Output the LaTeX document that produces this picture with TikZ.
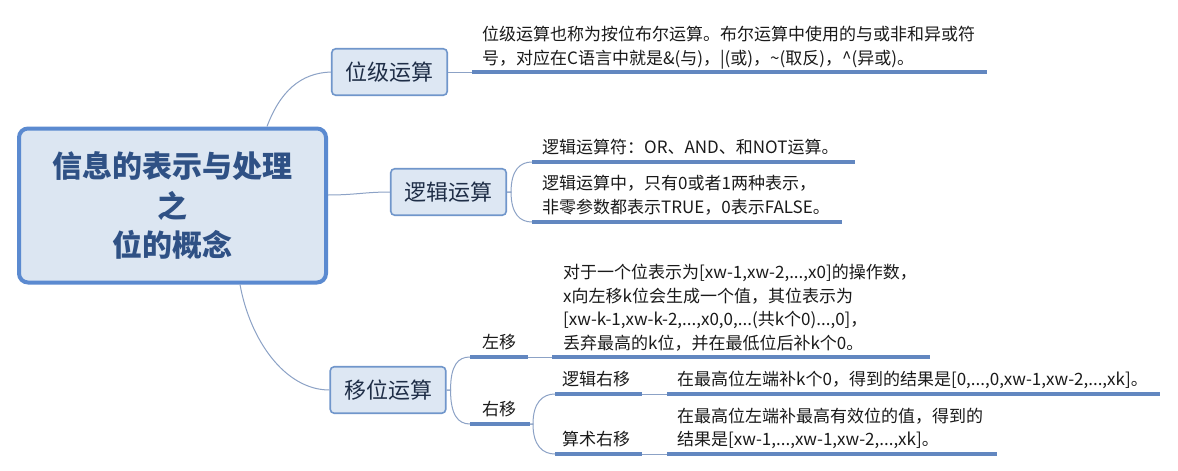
\documentclass[tikz,border=0pt]{standalone}
\usepackage{fontspec}
\setmainfont{Noto Sans CJK SC}
\definecolor{cborder}{HTML}{5B8AD0}
\definecolor{cfill}{HTML}{DCE6F2}
\definecolor{ctext}{HTML}{2F5185}
\definecolor{sborder}{HTML}{7096CB}
\definecolor{sfill}{HTML}{DDE7F3}
\definecolor{stext}{HTML}{1F2E47}
\definecolor{ulcol}{HTML}{6287C0}
\definecolor{conncol}{HTML}{8CA2C6}
\definecolor{dtext}{HTML}{1A1A1A}
\tikzset{
  central/.style={draw=cborder, line width=4pt, fill=cfill, rounded corners=9pt,
    minimum width=307pt, minimum height=154pt, inner sep=0pt, align=center,
    text=ctext, font=\fontsize{30}{39.5}\selectfont\bfseries},
  mainbox/.style={draw=sborder, line width=1.6pt, fill=sfill, rounded corners=4pt,
    minimum width=115.5pt, minimum height=46.5pt, inner sep=0pt,
    text=stext, font=\fontsize{22}{26}\selectfont},
  detail/.style={anchor=north west, inner sep=0pt, align=left, text=dtext,
    font=\fontsize{17}{23.5}\selectfont},
  subtopic/.style={anchor=north west, inner sep=0pt, text=dtext,
    font=\fontsize{17}{23.5}\selectfont},
  conn/.style={draw=conncol, line width=1pt},
  uln/.style={draw=ulcol, line width=3.2pt}
}
\begin{document}
\begin{tikzpicture}[x=1pt,y=-1pt]
\useasboundingbox[fill=white] (0,0) rectangle (1178,471);

% central topic
\node[central] (c) at (172.5,205.5) {信息的表示与处理\\之\\位的概念};

% main topics
\node[mainbox] (b1) at (389.5,72) {位级运算};
\node[mainbox] (b2) at (448.5,192) {逻辑运算};
\node[mainbox] (b3) at (388,390) {移位运算};

\draw[conn] ([xshift=94.5pt]c.north) .. controls (280,92) and (300,73) .. (b1.west);
\draw[conn] ([yshift=10.5pt]c.east) .. controls (355,195) and (365,192) .. (b2.west);
\draw[conn] ([xshift=67.5pt]c.south) .. controls (250,340) and (285,390) .. (b3.west);

% 位级运算 detail
\node[detail] (d1) at (482,26) {位级运算也称为按位布尔运算。布尔运算中使用的与或非和异或符\\号，对应在C语言中就是\&(与)，|(或)，\textasciitilde(取反)，\textasciicircum(异或)。};
\coordinate (u1a) at (472,72);
\coordinate (u1b) at (987,72);
\draw[conn] (b1.east) -- (u1a);
\draw[uln] (u1a) -- (u1b);

% 逻辑运算 details
\node[detail] (d2) at (542,139) {逻辑运算符：OR、AND、和NOT运算。};
\node[detail] (d3) at (542,175) {逻辑运算中，只有0或者1两种表示，\\非零参数都表示TRUE，0表示FALSE。};
\coordinate (u2a) at (532,162);
\coordinate (u2b) at (855,162);
\coordinate (u3a) at (532,222);
\coordinate (u3b) at (842,222);
\draw[conn] (b2.east) -- ++(4,0) .. controls +(0,-22) and +(-12,0) .. (u2a);
\draw[conn] (b2.east) -- ++(4,0) .. controls +(0,22) and +(-12,0) .. (u3a);
\draw[uln] (u2a) -- (u2b);
\draw[uln] (u3a) -- (u3b);

% 移位运算: 左移
\node[subtopic] (l) at (482,334) {左移};
\coordinate (u4a) at (470,357);
\coordinate (u4b) at (528,357);
\draw[conn] (b3.east) -- ++(4,0) .. controls +(0,-25) and +(-12,0) .. (u4a);
\draw[uln] (u4a) -- (u4b);
\node[detail] (d4) at (563,264) {对于一个位表示为[xw-1,xw-2,...,x0]的操作数，\\x向左移k位会生成一个值，其位表示为\\{[}xw-k-1,xw-k-2,...,x0,0,...(共k个0)...,0]，\\丢弃最高的k位，并在最低位后补k个0。};
\coordinate (u6a) at (552,357);
\coordinate (u6b) at (930,357);
\draw[conn] (u4b) -- (u6a);
\draw[uln] (u6a) -- (u6b);

% 移位运算: 右移
\node[subtopic] (r) at (482,401) {右移};
\coordinate (u5a) at (470,424);
\coordinate (u5b) at (530,424);
\draw[conn] (b3.east) -- ++(4,0) .. controls +(0,25) and +(-12,0) .. (u5a);
\draw[uln] (u5a) -- (u5b);

% 逻辑右移
\node[subtopic] (lr) at (562,371) {逻辑右移};
\coordinate (u7a) at (555,394);
\coordinate (u7b) at (642,394);
\draw[conn] (u5b) -- ++(3,0) .. controls +(0,-22) and +(-12,0) .. (u7a);
\draw[uln] (u7a) -- (u7b);
\node[detail] (d7) at (677,371) {在最高位左端补k个0，得到的结果是[0,...,0,xw-1,xw-2,...,xk]。};
\coordinate (u8a) at (667,394);
\coordinate (u8b) at (1160,394);
\draw[conn] (u7b) -- (u8a);
\draw[uln] (u8a) -- (u8b);

% 算术右移
\node[subtopic] (ar) at (562,431) {算术右移};
\coordinate (u9a) at (555,454);
\coordinate (u9b) at (642,454);
\draw[conn] (u5b) -- ++(3,0) .. controls +(0,22) and +(-12,0) .. (u9a);
\draw[uln] (u9a) -- (u9b);
\node[detail] (d9) at (677,407.5) {在最高位左端补最高有效位的值，得到的\\结果是[xw-1,...,xw-1,xw-2,...,xk]。};
\coordinate (u10a) at (667,454);
\coordinate (u10b) at (997,454);
\draw[conn] (u9b) -- (u10a);
\draw[uln] (u10a) -- (u10b);
\end{tikzpicture}
\end{document}
